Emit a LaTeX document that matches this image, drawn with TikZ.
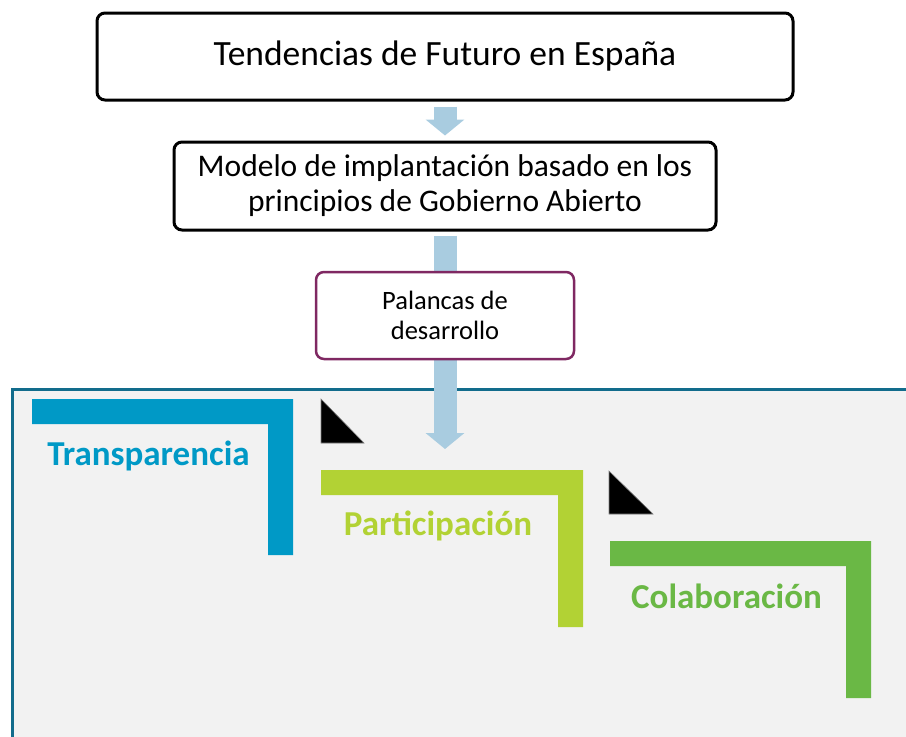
\documentclass[tikz,border=0pt]{standalone}
\usepackage{fontspec}
\setmainfont{Carlito}
\usetikzlibrary{arrows.meta}
\definecolor{arrowblue}{RGB}{169,204,224}
\definecolor{boxpurple}{RGB}{127,40,98}
\definecolor{panelgray}{RGB}{242,242,242}
\definecolor{panelteal}{RGB}{18,108,140}
\definecolor{transblue}{RGB}{0,153,198}
\definecolor{partlime}{RGB}{178,210,52}
\definecolor{colagreen}{RGB}{106,184,69}
\pgfdeclarelayer{background}
\pgfdeclarelayer{arrows}
\pgfsetlayers{background,arrows,main}
\tikzset{
  blackbox/.style={draw=black, line width=3pt, rounded corners=8pt, fill=white, inner sep=0pt, align=center},
  purplebox/.style={draw=boxpurple, line width=2.5pt, rounded corners=8pt, fill=white, inner sep=0pt, align=center},
  blockarrow/.style={draw=arrowblue, line width=23pt, -{Triangle[width=38pt,length=16pt]}},
  label/.style={font=\fontsize{35}{40}\selectfont\bfseries, anchor=base, inner sep=0pt},
  corner/.style={draw=none},
  wedge/.style={fill=black, draw=gray, line width=0.6pt},
}
\begin{document}
\begin{tikzpicture}[x=1pt,y=-1pt]
\useasboundingbox (0,0) rectangle (906,737);
% boxes
\node[blackbox, minimum width=696pt, minimum height=87pt,
      font=\fontsize{35.5}{40}\selectfont] (trends) at (445,56.5) {Tendencias de Futuro en España};
\node[blackbox, minimum width=542pt, minimum height=88pt,
      font=\fontsize{31.5}{35}\selectfont] (model) at (445,186) {Modelo de implantación basado en los\\principios de Gobierno Abierto};
\node[purplebox, minimum width=258pt, minimum height=87pt,
      font=\fontsize{26.5}{30}\selectfont] (levers) at (445,315.5) {Palancas de\\desarrollo};
\coordinate (tip) at (445,449);
% panel
\begin{pgfonlayer}{background}
  \fill[panelgray] (12.5,389.5) rectangle (930,760);
  \draw[panelteal, line width=3pt] (12.5,760) -- (12.5,389.5) -- (930,389.5);
\end{pgfonlayer}
% arrows
\begin{pgfonlayer}{arrows}
  \draw[blockarrow, shorten <=5pt, shorten >=5pt] (trends.south) -- (model.north);
  \draw[blockarrow, shorten <=4pt] (model.south) -- (tip);
\end{pgfonlayer}
% L shapes
\fill[transblue] (32,399) -- (293,399) -- (293,555) -- (268,555) -- (268,424) -- (32,424) -- cycle;
\fill[partlime] (321,470) -- (583,470) -- (583,627) -- (558,627) -- (558,495) -- (321,495) -- cycle;
\fill[colagreen] (610,541) -- (871,541) -- (871,698) -- (846,698) -- (846,566) -- (610,566) -- cycle;
% wedges
\draw[wedge] (321,399) -- (321,443) -- (364,443) -- cycle;
\draw[wedge] (609,471) -- (609,514) -- (653,514) -- cycle;
% labels
\node[label, text=transblue] (transp) at (148.5,465) {Transparencia};
\node[label, text=partlime] (partic) at (438,535) {Participación};
\node[label, text=colagreen] (colab) at (726.5,608) {Colaboración};
\end{tikzpicture}
\end{document}
